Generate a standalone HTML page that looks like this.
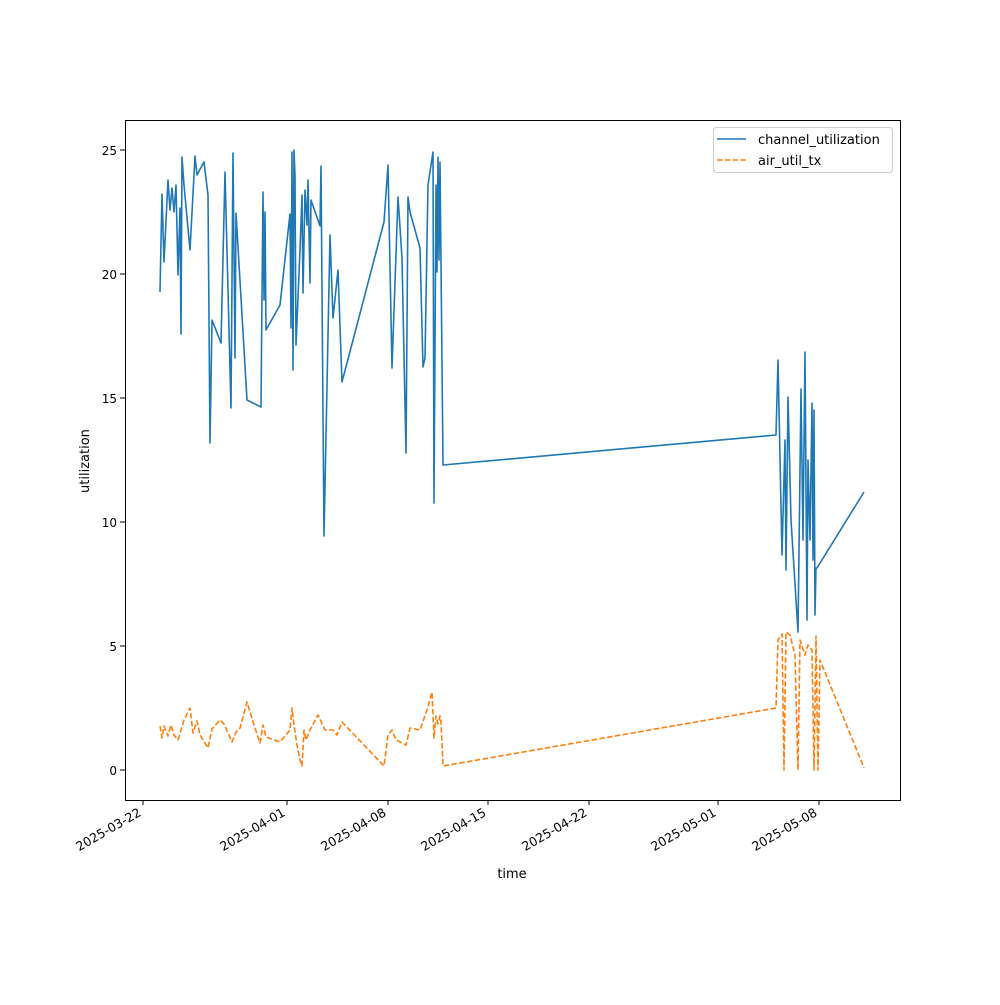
<!DOCTYPE html><html><head><style>body{margin:0;background:#fff}</style></head><body>
<svg width="1000" height="1000" xmlns="http://www.w3.org/2000/svg" font-family="DejaVu Sans, Liberation Sans, sans-serif" font-size="13">
<rect width="1000" height="1000" fill="#fff"/>
<polyline fill="none" stroke="#1f77b4" stroke-width="1.6" stroke-linejoin="round" points="160,292 162,194 164,262 168,180 170,210 172,188 174,212 176,185 178,275 180,208 181,334 182,157 184,185 190,250 195,156 197,175 204,162 208,195 210,443 212,320 221,343 225,172 231,408 233,153 235,358 236,213 247,400 261,407 262,296 263,192 264,300 265,212 266,330 280,305 290,214 291,328 292,152 293,370 294,150 295,176 296,345 300,250 302,195 303,293 305,190 307,225 308,180 310,283 311,200 320,226 321,166 324,536 330,235 333,318 338,270 342,382 384,222 388,165 392,368 398,197 402,258 406,453 408,197 410,212 420,248 423,367 425,358 428,185 433,152 434,503 436,185 437,272 438,157 439,260 440,162 443,465 776,435 778,360 782,555 785,440 786,570 788,397 791,520 798,632 801,389 803,540 805,352 807,620 808,460 810,540 812,403 813,560 814,410 815,615 816,568 817,568 864,492"/>
<polyline fill="none" stroke="#ff7f0e" stroke-width="1.6" stroke-dasharray="5.5,2.4" stroke-linejoin="round" points="160,726 162,738 164,726 168,736 171,725 174,735 178,740 184,720 190,708 193,733 197,721 200,735 208,748 212,729 220,720 224,724 232,742 236,732 240,728 247,702 254,725 260,743 263,725 266,737 280,742 290,730 292,708 294,725 297,745 300,760 302,766 304,730 306,740 310,730 318,715 325,730 333,730 337,735 342,722 384,766 388,735 392,730 396,740 406,745 410,728 420,730 428,707 432,692 434,738 436,716 438,724 440,716 441,722 443,766 776,708 778,640 782,634 784,770 786,632 790,635 795,655 798,770 800,640 805,655 808,645 812,650 814,770 816,636 818,770 820,660 864,768"/>
<rect x="125.5" y="120.5" width="775" height="680" fill="none" stroke="#000" stroke-width="1"/>
<g stroke="#000">
<line x1="125" x2="120" y1="770" y2="770"/><line x1="125" x2="120" y1="646" y2="646"/><line x1="125" x2="120" y1="522" y2="522"/><line x1="125" x2="120" y1="398" y2="398"/><line x1="125" x2="120" y1="274" y2="274"/><line x1="125" x2="120" y1="150" y2="150"/>
<line x1="143" x2="143" y1="800" y2="805"/><line x1="287" x2="287" y1="800" y2="805"/><line x1="388" x2="388" y1="800" y2="805"/><line x1="488" x2="488" y1="800" y2="805"/><line x1="589" x2="589" y1="800" y2="805"/><line x1="718" x2="718" y1="800" y2="805"/><line x1="819" x2="819" y1="800" y2="805"/>
</g>
<g text-anchor="end" font-size="12">
<text x="117" y="775">0</text><text x="117" y="651">5</text><text x="117" y="527">10</text><text x="117" y="403">15</text><text x="117" y="279">20</text><text x="117" y="155">25</text>
</g>
<g text-anchor="end" font-size="12.5">
<text transform="translate(142,815) rotate(-30)">2025-03-22</text>
<text transform="translate(286,815) rotate(-30)">2025-04-01</text>
<text transform="translate(387,815) rotate(-30)">2025-04-08</text>
<text transform="translate(487,815) rotate(-30)">2025-04-15</text>
<text transform="translate(588,815) rotate(-30)">2025-04-22</text>
<text transform="translate(717,815) rotate(-30)">2025-05-01</text>
<text transform="translate(818,815) rotate(-30)">2025-05-08</text>
</g>
<text x="512" y="878" text-anchor="middle">time</text>
<text transform="translate(89,461) rotate(-90)" text-anchor="middle">utilization</text>
<rect x="713.5" y="127.5" width="179" height="45" rx="3" fill="#fff" stroke="#ccc"/>
<line x1="717" x2="746" y1="139" y2="139" stroke="#1f77b4" stroke-width="1.6"/>
<line x1="717" x2="746" y1="160" y2="160" stroke="#ff7f0e" stroke-width="1.6" stroke-dasharray="5.5,2.4"/>
<text x="758" y="144">channel_utilization</text>
<text x="758" y="165">air_util_tx</text>
</svg>
</body></html>
